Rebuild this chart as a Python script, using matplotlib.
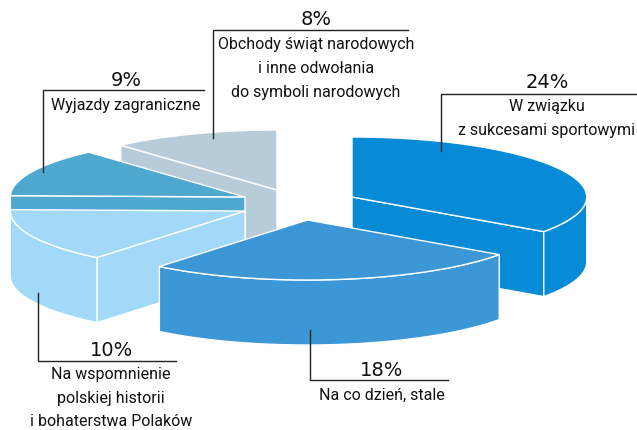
import numpy as np
import matplotlib
matplotlib.use("Agg")
import matplotlib.pyplot as plt
from matplotlib.patches import Polygon

# Chart values
percents = [24, 18, 10, 9, 8]
labels = [
    "W związku\nz sukcesami sportowymi",
    "Na co dzień, stale",
    "Na wspomnienie\npolskiej historii\ni bohaterstwa Polaków",
    "Wyjazdy zagraniczne",
    "Obchody świąt narodowych\ni inne odwołania\ndo symboli narodowych",
]

# Look of each slice
colors = ["#078bd6", "#3b97d6", "#a2d9f9", "#4fa8d0", "#b7cbd8"]
centers = [(352, 197), (307.5, 220), (245, 211), (245, 197), (277, 190)]
draw_order = [4, 3, 0, 2, 1]

# Leader lines: corner x, corner y, far end of the horizontal, far end of the vertical
leaders = [
    (441, 93.5, 637, 151),
    (309.5, 380, 448, 330),
    (38, 360.5, 176, 293),
    (43, 90, 204, 172),
    (213, 29.5, 408, 138),
]
# Text anchors: x, percent baseline, baseline of each label line
text_pos = [
    (547, 87.5, [111.5, 135]),
    (382, 375.5, [399.5]),
    (111, 355.5, [379.5, 403, 426]),
    (126, 86.5, [110]),
    (316, 25, [49, 73, 96.5]),
]

RX = 234.7
RY = 60
DEPTH = 65
LABEL_FONT = ["Roboto", "Liberation Sans"]
PERCENT_FONT = ["DejaVu Sans"]


def arc_points(center, start, end, n=80):
    """Points on the tilted rim between two angles in degrees."""
    t = np.radians(np.linspace(start, end, n))
    return np.column_stack([center[0] + RX * np.cos(t), center[1] - RY * np.sin(t)])


def face(ax, points, color):
    ax.add_patch(Polygon(points, closed=True, facecolor=color, edgecolor="white", linewidth=1.0, joinstyle="round"))


def draw_slice(ax, center, start, end, color):
    """Draw one exploded slice, sides first and the top last."""
    cx, cy = center
    down = np.array([0, DEPTH])
    apex = np.array([cx, cy])

    # Cut faces, only those turned towards the viewer
    s_visible = np.cos(np.radians(start)) < -1e-6
    e_visible = np.cos(np.radians(end)) > 1e-6
    for angle, visible in ((start, s_visible), (end, e_visible)):
        if visible:
            corner = arc_points(center, angle, angle, 1)[0]
            face(ax, [apex, corner, corner + down, apex + down], color)

    # Outer wall, only the part facing the viewer (lower half of the ellipse)
    lo = max(min(start, end), -180)
    hi = min(max(start, end), 0)
    if lo < hi:
        rim = arc_points(center, lo, hi)
        face(ax, np.vstack([rim, (rim + down)[::-1]]), color)

    # Top
    face(ax, np.vstack([[center], arc_points(center, start, end)]), color)


def main():
    fig = plt.figure(figsize=(6.37, 4.30), dpi=100)
    ax = fig.add_axes([0, 0, 1, 1])
    ax.set_xlim(0, 637)
    ax.set_ylim(430, 0)
    ax.axis("off")

    # Angles are clockwise from twelve o'clock, shares of the total shown
    total = sum(percents)
    ends = 90 - np.cumsum(percents) / total * 360
    starts = np.concatenate([[90], ends[:-1]])

    for i in draw_order:
        draw_slice(ax, centers[i], starts[i], ends[i], colors[i])

    for x0, y0, x1, y1 in leaders:
        ax.plot([x1, x0, x0], [y0, y0, y1], color="#222222", linewidth=1.0, solid_joinstyle="miter")

    for pct, label, (x, y_pct, ys) in zip(percents, labels, text_pos):
        ax.text(x, y_pct, f"{pct}%", family=PERCENT_FONT, fontsize=14, color="#111111", ha="center", va="baseline")
        for line, y in zip(label.split("\n"), ys):
            ax.text(x, y, line, family=LABEL_FONT, fontsize=11.5, color="#111111", ha="center", va="baseline")

    fig.savefig("out.png", dpi=100)
    plt.close(fig)


if __name__ == "__main__":
    main()
